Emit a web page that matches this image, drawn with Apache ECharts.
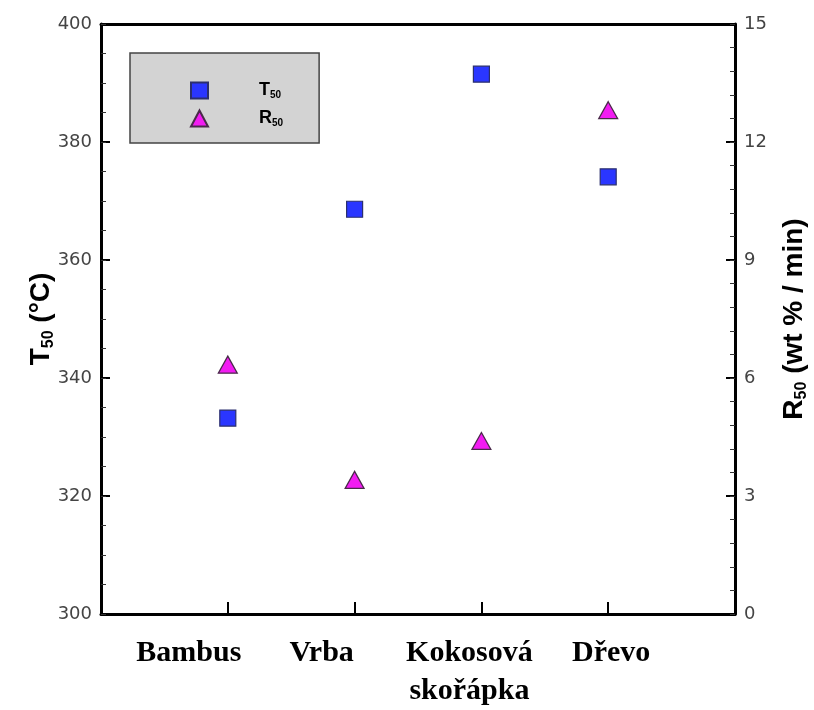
<!DOCTYPE html>
<html>
<head>
<meta charset="utf-8">
<script src="https://cdn.jsdelivr.net/npm/echarts@6/dist/echarts.min.js"></script>
<style>html,body{margin:0;padding:0;background:#fff;}#c{width:814px;height:710px;}</style>
</head>
<body>
<div id="c"></div>
<script>
const categories = ['Bambus', 'Vrba', 'Kokosová\nskořápka', 'Dřevo'];
const t50 = [333.2, 368.6, 391.5, 374.1];
const r50 = [6.34, 3.41, 4.40, 12.81];
const leftTicks = [300, 320, 340, 360, 380, 400];
const rightTicks = [0, 3, 6, 9, 12, 15];
const leftMinorStep = 5;
const rightMinorStep = 0.6;

const chart = echarts.init(document.getElementById('c'), null, {renderer: 'canvas'});
const numFont = {fontFamily: 'DejaVu Sans', fontSize: 18, color: '#444'};
const nameRich = {
  b: {fontFamily: 'Liberation Sans', fontWeight: 'bold', fontSize: 28, color: '#000', lineHeight: 34},
  s: {fontFamily: 'Liberation Sans', fontWeight: 'bold', fontSize: 16, color: '#000', padding: [16, 0, 0, 0], lineHeight: 34}
};
const xRichBase = {fontFamily: 'Liberation Serif', fontWeight: 'bold', fontSize: 30, color: '#000', lineHeight: 38};

function minorAxis(pos, ticks, step) {
  return {
    type: 'value', min: ticks[0], max: ticks[ticks.length - 1], interval: step,
    position: pos,
    splitLine: {show: false},
    axisLine: {show: false, onZero: false},
    axisLabel: {show: false},
    axisTick: {show: true, inside: true, length: 5, lineStyle: {color: '#333', width: 1}}
  };
}

const option = {
  animation: false,
  backgroundColor: '#fff',
  grid: {left: 101, right: 79, top: 24, bottom: 96, containLabel: false, outerBoundsMode: 'none'},
  legend: {
    orient: 'vertical',
    left: 130, top: 53,
    backgroundColor: '#d3d3d3',
    borderColor: '#444',
    borderWidth: 1.5,
    padding: [28, 36, 15, 60],
    itemWidth: 17, itemHeight: 16, itemGap: 9,
    data: [{name: 'T50', icon: 'rect'}, {name: 'R50', icon: 'triangle'}],
    formatter: function (n) { return '{b|' + n.charAt(0) + '}{s|' + n.slice(1) + '}'; },
    textStyle: {
      padding: [0, 0, 0, 46],
      rich: {
        b: {fontFamily: 'Liberation Sans', fontWeight: 'bold', fontSize: 18, color: '#000', lineHeight: 17},
        s: {fontFamily: 'Liberation Sans', fontWeight: 'bold', fontSize: 10, color: '#000', padding: [9, 0, 0, 0], lineHeight: 17}
      }
    }
  },
  xAxis: [{
    type: 'value', min: 0, max: categories.length + 1, interval: 1,
    position: 'bottom',
    splitLine: {show: false},
    axisLine: {show: true, onZero: false, lineStyle: {color: '#000', width: 3}},
    axisTick: {show: true, inside: true, length: 12, lineStyle: {color: '#000', width: 2}},
    axisLabel: {
      margin: 20,
      formatter: function (v) {
        const i = Math.round(v) - 1;
        if (i < 0 || i >= categories.length) return '';
        return categories[i].split('\n').map(function (s) { return '{c' + i + '|' + s + '}'; }).join('\n');
      },
      rich: {
        c0: Object.assign({}, xRichBase, {padding: [0, 78, 0, 0]}),
        c1: Object.assign({}, xRichBase, {padding: [0, 66, 0, 0]}),
        c2: Object.assign({}, xRichBase, {padding: [0, 24, 0, 0]}),
        c3: Object.assign({}, xRichBase, {padding: [0, 0, 0, 6]})
      }
    }
  }, {
    type: 'value', min: 0, max: categories.length + 1, position: 'top',
    splitLine: {show: false}, axisTick: {show: false}, axisLabel: {show: false},
    axisLine: {show: true, onZero: false, lineStyle: {color: '#000', width: 3}}
  }],
  yAxis: [{
    type: 'value', min: leftTicks[0], max: leftTicks[leftTicks.length - 1], interval: leftTicks[1] - leftTicks[0],
    position: 'left',
    name: '{b|T}{s|50}{b| (°C)}',
    nameLocation: 'middle', nameRotate: 90, nameGap: 43, nameMoveOverlap: false,
    nameTextStyle: {rich: nameRich},
    splitLine: {show: false},
    axisLine: {show: true, onZero: false, lineStyle: {color: '#000', width: 3}},
    axisTick: {show: true, inside: true, length: 9, lineStyle: {color: '#000', width: 2}},
    axisLabel: Object.assign({margin: 9}, numFont)
  }, {
    type: 'value', min: rightTicks[0], max: rightTicks[rightTicks.length - 1], interval: rightTicks[1] - rightTicks[0],
    position: 'right',
    name: '{b|R}{s|50}{b| (wt % / min)}',
    nameLocation: 'middle', nameRotate: 90, nameGap: 42, nameMoveOverlap: false,
    nameTextStyle: {rich: nameRich},
    splitLine: {show: false},
    axisLine: {show: true, onZero: false, lineStyle: {color: '#000', width: 3}},
    axisTick: {show: true, inside: true, length: 9, lineStyle: {color: '#000', width: 2}},
    axisLabel: Object.assign({margin: 9}, numFont)
  },
  minorAxis('left', leftTicks, leftMinorStep),
  minorAxis('right', rightTicks, rightMinorStep)
  ],
  series: [{
    name: 'T50', type: 'scatter', xAxisIndex: 0, yAxisIndex: 0,
    symbol: 'rect', symbolSize: [16, 16],
    itemStyle: {color: '#2a36ff', borderColor: '#2b2f6e', borderWidth: 1.2, opacity: 1},
    data: t50.map(function (v, i) { return [i + 1, v]; })
  }, {
    name: 'R50', type: 'scatter', xAxisIndex: 0, yAxisIndex: 1,
    symbol: 'triangle', symbolSize: [19, 17],
    itemStyle: {color: '#f21cf2', borderColor: '#4a2a4a', borderWidth: 1.2, opacity: 1},
    data: r50.map(function (v, i) { return [i + 1, v]; })
  }]
};
chart.setOption(option);
</script>
</body>
</html>
